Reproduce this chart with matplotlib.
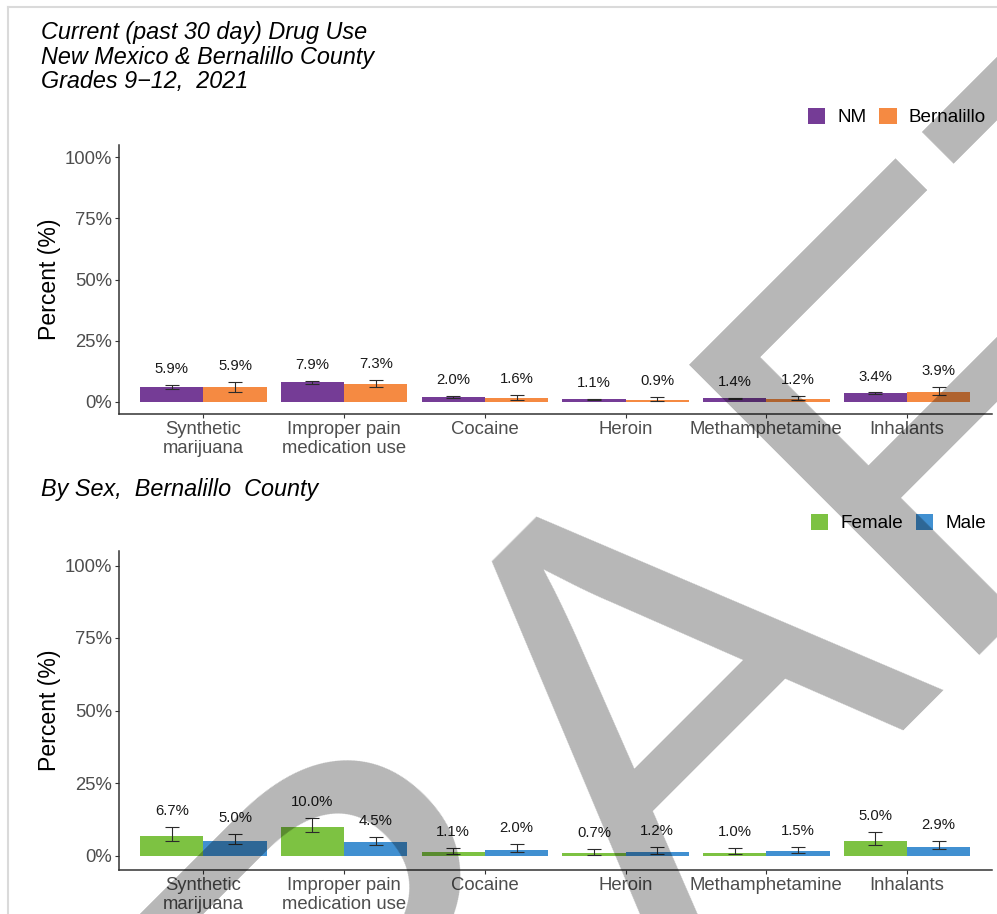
import numpy as np
import matplotlib.pyplot as plt
from matplotlib.patches import Patch
from matplotlib.lines import Line2D

plt.rcParams['font.family'] = ['Liberation Sans', 'DejaVu Sans']

W, H = 997, 914

drugs = ['Synthetic\nmarijuana', 'Improper pain\nmedication use', 'Cocaine',
         'Heroin', 'Methamphetamine', 'Inhalants']

# state vs county, percent with 95% CI
nm_pct = [5.9, 7.9, 2.0, 1.1, 1.4, 3.4]
nm_lo = [5.1, 7.4, 1.7, 0.9, 1.2, 3.0]
nm_hi = [6.7, 8.5, 2.3, 1.3, 1.6, 3.8]
bern_pct = [5.9, 7.3, 1.6, 0.9, 1.2, 3.9]
bern_lo = [4.2, 6.0, 0.9, 0.4, 0.6, 2.8]
bern_hi = [7.9, 8.8, 2.7, 2.0, 2.2, 6.0]

# county by sex
female_pct = [6.7, 10.0, 1.1, 0.7, 1.0, 5.0]
female_lo = [5.0, 8.2, 0.5, 0.2, 0.4, 3.6]
female_hi = [9.9, 13.0, 2.7, 2.4, 2.7, 8.0]
male_pct = [5.0, 4.5, 2.0, 1.2, 1.5, 2.9]
male_lo = [3.9, 3.5, 1.3, 0.6, 0.8, 2.1]
male_hi = [7.5, 6.3, 3.9, 2.8, 3.0, 5.1]

PURPLE = '#753c96'
ORANGE = '#f58a42'
GREEN = '#7dc242'
BLUE = '#4190d1'


def draw_panel(ax, groups):
    x = np.arange(1, len(drugs) + 1)
    w = 0.45
    for off, (vals, lo, hi, col) in zip([-w / 2, w / 2], groups):
        vals = np.array(vals)
        lo = np.array(lo)
        hi = np.array(hi)
        ax.bar(x + off, vals, width=w, color=col, edgecolor='none', zorder=2)
        ax.errorbar(x + off, vals, yerr=[vals - lo, hi - vals], fmt='none',
                    ecolor='#2b2b2b', elinewidth=0.8, capsize=5, capthick=0.8,
                    zorder=3)
        for xi, v, h in zip(x + off, vals, hi):
            ax.annotate(f'{v:.1f}%', (xi, h), xytext=(0, 11.5),
                        textcoords='offset points', ha='center', va='center',
                        fontsize=10.7, color='#1a1a1a')
    ax.set_xlim(0.4, 6.6)
    ax.set_ylim(-5, 105)
    ax.set_xticks(x)
    ax.set_xticklabels(drugs, linespacing=1.12)
    ax.set_yticks([0, 25, 50, 75, 100])
    ax.set_yticklabels(['0%', '25%', '50%', '75%', '100%'])
    ax.tick_params(axis='both', labelsize=13.3, labelcolor='#4d4d4d',
                   color='#333333', length=3, width=0.8, pad=2)
    for s in ['top', 'right']:
        ax.spines[s].set_visible(False)
    for s in ['left', 'bottom']:
        ax.spines[s].set_color('#333333')
        ax.spines[s].set_linewidth(1.1)
    ax.set_ylabel('Percent (%)', fontsize=16.6, color='black', labelpad=3)


fig = plt.figure(figsize=(W / 100, H / 100), dpi=100)

ax1 = fig.add_axes([119 / W, 1 - 414 / H, (991.5 - 119) / W, (414 - 145) / H])
draw_panel(ax1, [(nm_pct, nm_lo, nm_hi, PURPLE),
                 (bern_pct, bern_lo, bern_hi, ORANGE)])

ax2 = fig.add_axes([119 / W, 1 - 870 / H, (991.5 - 119) / W, (870 - 551) / H])
draw_panel(ax2, [(female_pct, female_lo, female_hi, GREEN),
                 (male_pct, male_lo, male_hi, BLUE)])

legend_kw = dict(loc='center right', bbox_transform=fig.transFigure, ncol=2,
                 frameon=False, fontsize=13.6, handlelength=0.93,
                 handleheight=0.93, handletextpad=0.63, columnspacing=0.69,
                 borderpad=0, borderaxespad=0)
ax1.legend(handles=[Patch(facecolor=PURPLE, label='NM'),
                    Patch(facecolor=ORANGE, label='Bernalillo')],
           bbox_to_anchor=(986 / W, 1 - 117 / H), **legend_kw)
ax2.legend(handles=[Patch(facecolor=GREEN, label='Female'),
                    Patch(facecolor=BLUE, label='Male')],
           bbox_to_anchor=(986 / W, 1 - 523 / H), **legend_kw)

title_lines = ['Current (past 30 day) Drug Use',
               'New Mexico & Bernalillo County',
               'Grades 9\u221212,  2021']
for line, yb in zip(title_lines, [39, 64, 88]):
    fig.text(40.5 / W, 1 - yb / H, line, fontsize=16.8, style='italic',
             va='baseline', ha='left', color='black')
fig.text(40.5 / W, 1 - 496 / H, 'By Sex,  Bernalillo  County', fontsize=16.8,
         style='italic', va='baseline', ha='left', color='black')

# page frame
fig.add_artist(Line2D([8 / W, 1], [1 - 7 / H, 1 - 7 / H],
                      transform=fig.transFigure, color='#dadada', lw=1.5))
fig.add_artist(Line2D([8 / W, 8 / W], [0, 1 - 7 / H],
                      transform=fig.transFigure, color='#dadada', lw=1.5))

# watermark
fig.text(742 / W, 1 - 842 / H, 'DRAFT', rotation=45, rotation_mode='anchor',
         ha='center', va='baseline', fontsize=430, color='black', alpha=0.285,
         zorder=20)

fig.savefig('out.png', dpi=100)
